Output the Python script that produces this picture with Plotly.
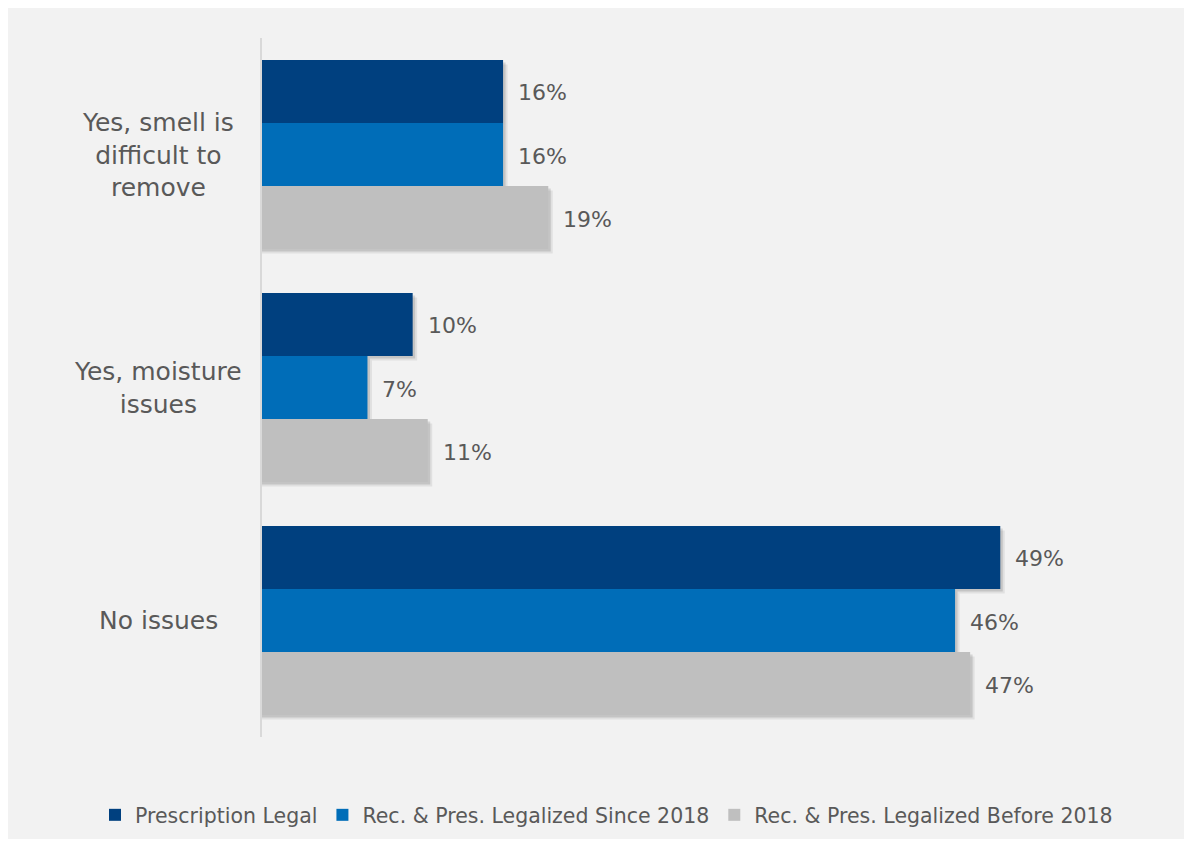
import plotly.graph_objects as go

categories = ["Yes, smell is<br>difficult to<br>remove", "Yes, moisture<br>issues", "No issues"]
series_names = ["Prescription Legal", "Rec. & Pres. Legalized Since 2018", "Rec. & Pres. Legalized Before 2018"]
prescription_legal = [0.16, 0.10, 0.49]
legalized_since_2018 = [0.16, 0.07, 0.46]
legalized_before_2018 = [0.19, 0.11, 0.47]
colors = ["#00407F", "#006DB8", "#BFBFBF"]

series = [prescription_legal, legalized_since_2018, legalized_before_2018]

# page offset of the figure (browser body margin)
OX, OY = 8, 8
W, H = 1177, 831
ML = 262 - OX
MT = 38 - OY
pw = 1166 - 262
ph = 737 - 38
MR = W - ML - pw
MB = H - MT - ph
xmax = 0.60
px_per_unit_x = pw / xmax
cat_px = ph / 3.0

bar_w = 0.2704
start = -0.4056
font_family = "DejaVu Sans"
text_color = "#595959"

fig = go.Figure()

# soft shadows (drawn first, behind bars)
for i, vals in enumerate(series):
    for dx, dy, a in [(4.5, 4.5, 0.07), (2.5, 2.5, 0.12)]:
        fig.add_trace(go.Bar(
            y=list(range(len(categories))),
            x=[v + dx / px_per_unit_x for v in vals],
            orientation="h",
            width=bar_w,
            offset=start + i * bar_w + dy / cat_px,
            marker=dict(color=f"rgba(0,0,0,{a})", line=dict(width=0)),
            showlegend=False,
            hoverinfo="skip",
        ))

for i, (name, vals) in enumerate(zip(series_names, series)):
    fig.add_trace(go.Bar(
        y=list(range(len(categories))),
        x=vals,
        name=name,
        orientation="h",
        width=bar_w,
        offset=start + i * bar_w,
        marker=dict(color=colors[i], line=dict(width=0)),
    ))

annotations = []
for i, vals in enumerate(series):
    for j, v in enumerate(vals):
        annotations.append(dict(
            x=v, y=j, xref="x", yref="y",
            text=f"{round(v * 100)}%",
            showarrow=False, xanchor="left", yanchor="middle",
            xshift=13, yshift=-(i - 1) * bar_w * cat_px - 1.5,
            font=dict(family=font_family, size=22, color=text_color),
        ))

label_x = (158 - 262) / pw
for j, c in enumerate(categories):
    annotations.append(dict(
        x=label_x, y=j, xref="paper", yref="y",
        text=c, showarrow=False, xanchor="center", yanchor="middle",
        align="center",
        font=dict(family=font_family, size=25, color=text_color),
    ))

fig.update_layout(
    width=W, height=H,
    margin=dict(l=ML, r=MR, t=MT, b=MB, pad=0, autoexpand=False),
    barmode="overlay",
    paper_bgcolor="#F2F2F2",
    plot_bgcolor="#F2F2F2",
    font=dict(family=font_family, color=text_color),
    xaxis=dict(range=[0, xmax], visible=False, showgrid=False, zeroline=False),
    yaxis=dict(range=[2.5, -0.5], showticklabels=False, showgrid=False, zeroline=False,
               showline=True, linecolor="#D9D9D9", linewidth=1.5, ticks=""),
    legend=dict(orientation="h", xref="paper", yref="paper",
                x=(95 - 262) / pw, xanchor="left",
                y=(737 - 815) / ph, yanchor="middle",
                itemwidth=30,
                font=dict(family=font_family, size=20.5, color=text_color),
                bgcolor="rgba(0,0,0,0)", itemclick=False),
    annotations=annotations,
    showlegend=True,
)

fig.write_html("out.html")
